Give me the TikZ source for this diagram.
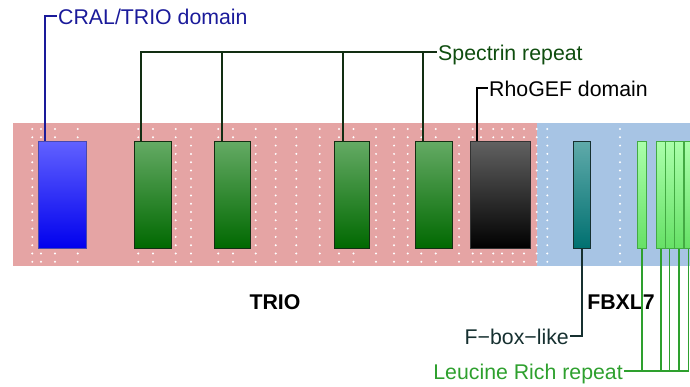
\documentclass[tikz,border=0pt]{standalone}
\usepackage{fontspec}
\setmainfont{Liberation Sans}

\definecolor{trioBand}{HTML}{E5A4A4}
\definecolor{fbxlBand}{HTML}{A7C4E4}
\definecolor{cralLine}{HTML}{1A1A9A}
\definecolor{specLine}{HTML}{122E12}
\definecolor{fboxLine}{HTML}{163030}
\definecolor{lrrLine}{HTML}{2EA02E}
\definecolor{specTop}{HTML}{64AA64}
\definecolor{specBottom}{HTML}{006800}
\definecolor{fboxTop}{HTML}{5FAAAA}
\definecolor{fboxBottom}{HTML}{007070}
\definecolor{lrrTop}{HTML}{AAFFAA}
\definecolor{lrrBottom}{HTML}{66E066}

\begin{document}
\begin{tikzpicture}[x=1pt, y=1pt,
    every node/.style={font=\fontsize{21.3}{24}\selectfont},
    domLabel/.style={inner sep=1pt, text height=17pt, text depth=0pt},
    domBox/.style={draw, line width=1.2pt, inner sep=0pt, minimum height=107pt, anchor=north west},
    cralBox/.style={domBox, draw=cralLine!80, top color=blue!62!white, bottom color=blue!93!black},
    specBox/.style={domBox, draw=specLine, top color=specTop, bottom color=specBottom},
    rhogefBox/.style={domBox, draw=black!80, top color=black!62, bottom color=black},
    fboxBox/.style={domBox, draw=fboxLine, top color=fboxTop, bottom color=fboxBottom},
    lrrBox/.style={domBox, draw=lrrLine!90!white, top color=lrrTop, bottom color=lrrBottom, minimum width=9pt},
    link/.style={line width=1.3pt}]
  % Bounding box matching the reference
  \useasboundingbox (0,0) rectangle (690,-386);

  % Protein bands
  \fill[trioBand] (13,-123) rectangle (537,-266);
  \fill[fbxlBand] (537,-123) rectangle (690,-266);

  % Dotted grid columns
  \foreach \x in {32.3,41,55,77.7,138.3,153,175.7,191,218.3,233,255.7,275.7,296.3,319.7,339,353.5,
                  376,394,407.7,421.3,435.7,459,472.7,481,493.3,502,512.7,524,536.7,547.3,620}
    \foreach \k in {0,...,16}
      \fill[white] (\x,{-129-8.3*\k}) circle (1.1);

  % Domains
  \node[cralBox, minimum width=48pt] (cral) at (38,-141) {};
  \node[specBox, minimum width=37pt] (spec1) at (134,-141) {};
  \node[specBox, minimum width=36pt] (spec2) at (214,-141) {};
  \node[specBox, minimum width=35pt] (spec3) at (334,-141) {};
  \node[specBox, minimum width=37pt] (spec4) at (415,-141) {};
  \node[rhogefBox, minimum width=60pt] (rhogef) at (470,-141) {};
  \node[fboxBox, minimum width=17pt] (fbox) at (573,-141) {};
  \node[lrrBox] (lrr1) at (637,-141) {};
  \node[lrrBox] (lrr2) at (656,-141) {};
  \node[lrrBox] (lrr3) at (664.5,-141) {};
  \node[lrrBox] (lrr4) at (674,-141) {};
  \node[lrrBox] (lrr5) at (683.5,-141) {};

  % Protein names
  \node[font=\fontsize{21.3}{24}\selectfont\bfseries, anchor=base] (trio) at (275,-309) {TRIO};
  \node[font=\fontsize{21.3}{24}\selectfont\bfseries, anchor=base] (fbxl) at (621,-309) {FBXL7};

  % Domain labels
  \node[domLabel, anchor=west, text=cralLine] (cralLab) at (57,-16) {CRAL/TRIO domain};
  \node[domLabel, anchor=west, text=specLine!85!green] (specLab) at (437,-52) {Spectrin repeat};
  \node[domLabel, anchor=west] (rhogefLab) at (488,-88) {RhoGEF domain};
  \node[domLabel, anchor=east, text=fboxLine] (fboxLab) at (570,-336) {F\textminus box\textminus like};
  \node[domLabel, anchor=east, text=lrrLine] (lrrLab) at (624,-371) {Leucine Rich repeat};

  % Connectors
  \draw[link, cralLine] ([xshift=7pt]cral.north west) |- (cralLab.west);
  \foreach \s/\d in {spec1/7,spec2/8,spec3/9,spec4/8}
    \draw[link, specLine] ([xshift=\d pt]\s.north west) |- (specLab.west);
  \draw[link, black] ([xshift=7pt]rhogef.north west) |- (rhogefLab.west);
  \draw[link, fboxLine] (fbox.south) |- (fboxLab.east);
  \foreach \r in {lrr1,lrr2,lrr3,lrr4,lrr5}
    \draw[link, lrrLine] (\r.south) |- (lrrLab.east);
\end{tikzpicture}
\end{document}
